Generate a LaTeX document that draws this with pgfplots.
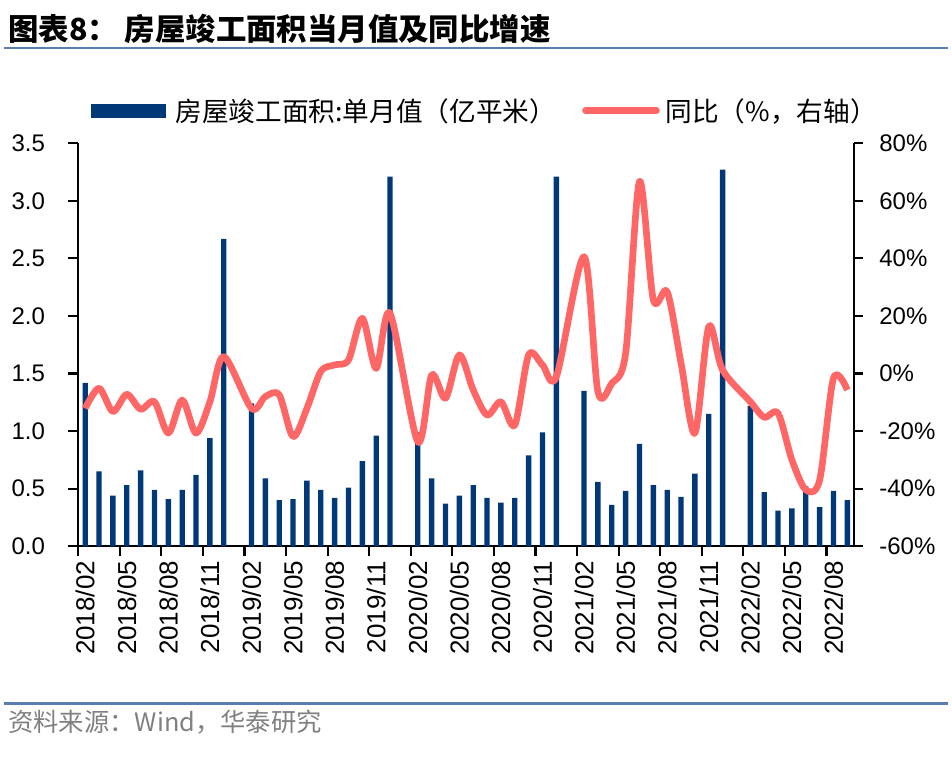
\documentclass[border=0pt]{standalone}
\usepackage{pgfplots}
\pgfplotsset{compat=1.18}
\usepackage{fontspec}
\setmainfont{Liberation Sans}
\newfontfamily\cjk{Noto Sans CJK SC}
\definecolor{barc}{RGB}{0,56,120}
\definecolor{linec}{RGB}{255,102,102}
\definecolor{rulec}{RGB}{91,125,177}
\definecolor{srcc}{RGB}{128,128,128}

\pgfplotstableread{
x y
0 1.42
1 0.65
2 0.44
3 0.53
4 0.66
5 0.49
6 0.41
7 0.49
8 0.62
9 0.94
10 2.67
12 1.24
13 0.59
14 0.40
15 0.41
16 0.57
17 0.49
18 0.42
19 0.51
20 0.74
21 0.96
22 3.21
24 0.99
25 0.59
26 0.37
27 0.44
28 0.53
29 0.42
30 0.38
31 0.42
32 0.79
33 0.99
34 3.21
36 1.35
37 0.56
38 0.36
39 0.48
40 0.89
41 0.53
42 0.49
43 0.43
44 0.63
45 1.15
46 3.27
48 1.22
49 0.47
50 0.31
51 0.33
52 0.52
53 0.34
54 0.48
55 0.40
}\bardata

\pgfplotstableread{
x y
0 -12.1
1 -5.1
2 -13.2
3 -7.2
4 -12.4
5 -9.8
6 -20.7
7 -9.2
8 -20.7
9 -9.8
10 5.9
12 -12.1
13 -8.0
14 -7.4
15 -21.9
16 -12.1
17 0.7
18 3.0
19 4.7
20 19.2
21 1.8
22 20.9
24 -23.7
25 -0.5
26 -8.6
27 6.5
28 -5.7
29 -14.4
30 -9.8
31 -17.9
32 6.5
33 3.0
34 -1.1
36 40.6
37 -6.3
38 -3.4
39 7.0
40 66.7
41 25.6
42 28.4
43 3.6
44 -20.7
45 16.3
46 1.2
48 -9.8
49 -15.2
50 -13.8
51 -30.0
52 -40.4
53 -37.0
54 -1.6
55 -5.7
}\linedata

\begin{document}
\begin{tikzpicture}[x=1pt,y=1pt]
\useasboundingbox (0,0) rectangle (714,567);
\node[anchor=west, inner sep=0pt] at (6,545) {\cjk\bfseries\fontsize{22.8}{26}\selectfont 图表8： 房屋竣工面积当月值及同比增速};
\draw[rulec, line width=2.2pt] (3,531) -- (711,531);
\draw[rulec, line width=2pt] (3,39.5) -- (711,39.5);
\node[anchor=west, inner sep=0pt, text=srcc] at (6,25.5) {\cjk\fontsize{19}{22}\selectfont 资料来源：Wind，华泰研究};

\begin{axis}[
  at={(58.7pt,157.3pt)}, anchor=south west,
  scale only axis, width=582pt, height=302.25pt,
  xmin=-0.5, xmax=55.5, ymin=0, ymax=3.5,
  axis x line*=bottom, axis y line*=left,
  axis line style={-, line width=1.6pt, black},
  ytick={0,0.5,...,3.5},
  yticklabels={0.0,0.5,1.0,1.5,2.0,2.5,3.0,3.5},
  xtick={0,3,...,54},
  xticklabels={2018/02,2018/05,2018/08,2018/11,2019/02,2019/05,2019/08,2019/11,2020/02,2020/05,2020/08,2020/11,2021/02,2021/05,2021/08,2021/11,2022/02,2022/05,2022/08},
  minor xtick={-0.5,2.5,...,53.5},
  tick align=outside,
  major tick length=7.5pt, minor tick length=7.5pt,
  major x tick style={draw=none},
  tick style={line width=1.6pt, black},
  /pgf/number format/assume math mode=true,
  yticklabel style={font=\fontsize{18}{20}\selectfont, xshift=-14pt},
  xticklabel style={font=\fontsize{19.5}{21}\selectfont, rotate=90, anchor=east},
  clip=false,
]
\addplot[ybar, bar width=4pt, fill=barc, draw=none] table[x=x,y=y] {\bardata};
\end{axis}

\begin{axis}[
  at={(58.7pt,157.3pt)}, anchor=south west,
  scale only axis, width=582pt, height=302.25pt,
  xmin=-0.5, xmax=55.5, ymin=-60, ymax=80,
  axis y line*=right, axis x line=none,
  axis line style={-, line width=1.6pt, black},
  ytick={-60,-40,...,80},
  yticklabels={-60\%,-40\%,-20\%,0\%,20\%,40\%,60\%,80\%},
  tick align=outside,
  major tick length=6.5pt,
  tick style={line width=1.6pt, black},
  /pgf/number format/assume math mode=true,
  yticklabel style={font=\fontsize{18}{20}\selectfont, xshift=8.8pt},
  legend style={draw=none, fill=none, at={(0.0164,1.081)}, anchor=west,
    inner sep=0pt, outer sep=0pt, legend columns=2,
    nodes={inner sep=0pt, anchor=west},
    font=\cjk\fontsize{20}{23}\selectfont,
    /tikz/every odd column/.append style={column sep=4.3pt},
    /tikz/every even column/.append style={column sep=0pt}},
  legend cell align=left,
]
\addlegendimage{legend image code/.code={\fill[barc] (0pt,-4.9pt) rectangle (55.5pt,4.9pt);}}
\addlegendentry{\makebox[308.2pt][l]{\hspace{3.2pt}房屋竣工面积:单月值（亿平米）}}
\addplot[linec, line width=5pt, smooth, tension=0.5, line join=round,
  legend image code/.code={\draw[linec, line width=5pt, line cap=round] (2.5pt,0pt) -- (55.7pt,0pt);}]
  table[x=x,y=y] {\linedata};
\addlegendentry{同比（\%，右轴）}
\end{axis}
\end{tikzpicture}
\end{document}
